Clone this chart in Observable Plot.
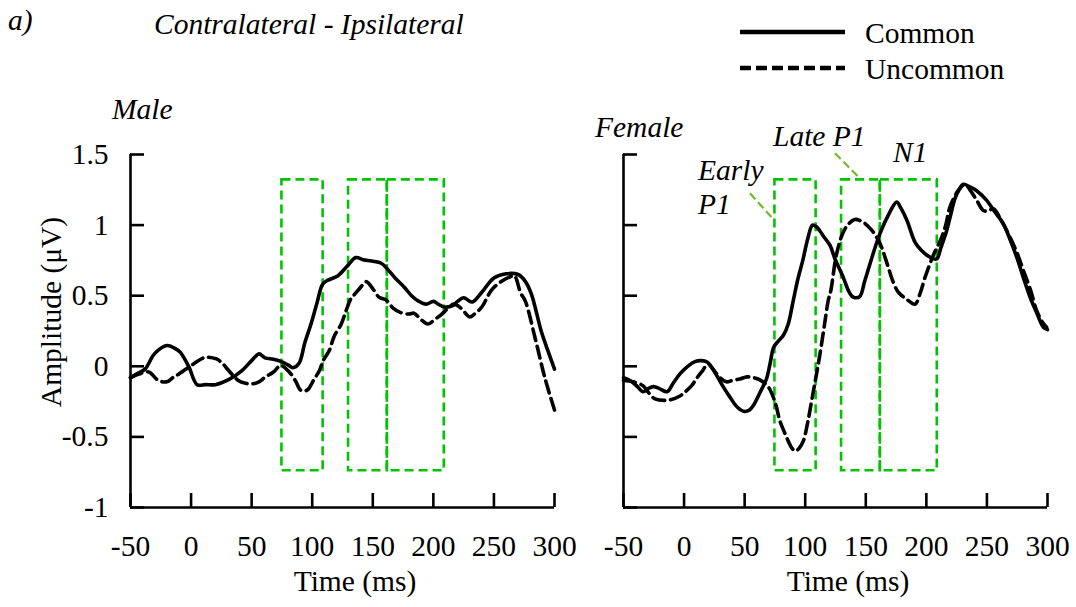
<!DOCTYPE html>
<html>
<head>
<meta charset="utf-8">
<script src="https://cdn.jsdelivr.net/npm/d3@7"></script>
<script src="https://cdn.jsdelivr.net/npm/@observablehq/plot@0.6"></script>
<style>
  html, body { margin: 0; padding: 0; background: #fff; }
  #wrap { position: relative; width: 1076px; height: 607px; overflow: hidden; font-family: "Liberation Serif", "Times New Roman", serif; }
  #wrap > .panel { position: absolute; top: 140px; }
  #overlay { position: absolute; left: 0; top: 0; pointer-events: none; }
  #overlay text { font-family: "Liberation Serif", "Times New Roman", serif; font-size: 29.5px; fill: #000; }
  #overlay text.it { font-style: italic; }
</style>
</head>
<body>
<div id="wrap"></div>
<script>
// ---- data (time in ms, amplitude in µV) ----
const xTicks = [-50, 0, 50, 100, 150, 200, 250, 300];
const yTicks = [-1, -0.5, 0, 0.5, 1, 1.5];
const seriesNames = ["Common", "Uncommon"];

const windows = [
  {name: "Early P1", t0: 75, t1: 109},
  {name: "Late P1", t0: 130, t1: 162},
  {name: "N1", t0: 162, t1: 209}
];
const windowAmp = [-0.74, 1.32];

const maleCommon = [[-50,-0.08],[-44,-0.05],[-38,-0.02],[-30,0.09],[-20,0.147],[-12,0.12],[-9,0.10],[-2,0.0],[5,-0.13],[12,-0.13],[20,-0.13],[31,-0.095],[42,-0.03],[50,0.04],[56,0.088],[61,0.06],[68,0.05],[74,0.035],[80,0.01],[84,-0.01],[89,0.02],[94,0.17],[99,0.30],[104,0.45],[108.5,0.58],[113,0.61],[121,0.64],[129,0.71],[136,0.77],[142,0.755],[149,0.745],[157,0.73],[162,0.69],[169,0.62],[176,0.56],[182,0.5],[188,0.46],[194,0.44],[200,0.46],[204,0.44],[209,0.42],[216,0.43],[220,0.46],[225,0.485],[232,0.455],[240,0.525],[250,0.625],[260,0.655],[270,0.65],[276,0.6],[281,0.51],[289,0.25],[295,0.1],[300,-0.02]];

const maleUncommon = [[-50,-0.08],[-43,-0.055],[-35,-0.04],[-27,-0.10],[-20,-0.11],[-15,-0.08],[-10,-0.054],[2,0.017],[8,0.05],[12,0.064],[21,0.052],[26,0.02],[31,-0.03],[39,-0.10],[45,-0.12],[50,-0.125],[56,-0.11],[61,-0.078],[68,-0.04],[74,0.005],[81,-0.04],[86,-0.1],[90.5,-0.17],[94,-0.175],[97,-0.16],[101,-0.1],[106,-0.03],[109,0.04],[114,0.11],[118,0.21],[124,0.3],[128,0.395],[132,0.48],[135,0.51],[140,0.56],[144.5,0.60],[151,0.537],[155,0.49],[158,0.48],[161,0.47],[167,0.41],[173,0.38],[180,0.37],[184,0.376],[190,0.33],[195.5,0.30],[201,0.33],[207,0.37],[212,0.41],[217,0.44],[223,0.41],[230,0.35],[234,0.37],[240,0.42],[248,0.54],[256,0.6],[264,0.636],[267,0.64],[272,0.52],[276,0.46],[284,0.2],[292,-0.08],[300,-0.31]];

const femaleCommon = [[-50,-0.08],[-44.6,-0.10],[-39,-0.14],[-34,-0.18],[-29,-0.155],[-25,-0.144],[-20,-0.16],[-14,-0.18],[-9,-0.12],[-3.4,-0.054],[3,0.0],[9,0.033],[14,0.04],[19,0.03],[23,-0.01],[27,-0.066],[32,-0.14],[38,-0.22],[44,-0.29],[50,-0.32],[54,-0.31],[57,-0.28],[63,-0.18],[68,-0.09],[71,0.02],[74,0.135],[78,0.18],[82,0.22],[86,0.3],[90,0.46],[94,0.62],[98,0.75],[102,0.9],[106,1.0],[109,0.99],[112,0.96],[116,0.91],[120.5,0.856],[124.6,0.76],[131.4,0.63],[136,0.53],[139.7,0.49],[145,0.494],[149,0.6],[153.5,0.726],[158,0.85],[161.7,0.94],[168,1.06],[175.5,1.163],[179,1.12],[184,1.033],[190.6,0.88],[196,0.82],[203,0.773],[208.5,0.76],[212,0.84],[216.8,0.962],[220,1.07],[223.6,1.187],[227,1.25],[230.5,1.289],[236,1.27],[242,1.24],[249.8,1.175],[256,1.1],[263.5,1.01],[269,0.9],[274.6,0.773],[280,0.63],[285.6,0.49],[291,0.38],[296.6,0.277],[300,0.26]];

const femaleUncommon = [[-50,-0.1],[-42,-0.11],[-34,-0.137],[-29,-0.19],[-24,-0.23],[-13,-0.24],[-3.4,-0.21],[1,-0.18],[6.3,-0.137],[10,-0.09],[14.5,-0.04],[20,0.017],[23,-0.01],[27,-0.054],[31,-0.09],[35,-0.11],[40,-0.10],[46,-0.09],[52,-0.075],[56,-0.078],[61,-0.09],[65,-0.11],[69,-0.14],[72.3,-0.19],[76,-0.28],[79,-0.385],[83,-0.47],[86,-0.53],[89,-0.58],[92,-0.60],[95,-0.58],[98.4,-0.53],[102,-0.4],[105.4,-0.24],[109,-0.07],[112.2,0.088],[116,0.3],[119,0.466],[121,0.53],[126,0.80],[131.4,0.95],[136,1.01],[141,1.04],[148,1.02],[152,0.99],[156.2,0.95],[161.7,0.87],[168.6,0.70],[172,0.61],[176.8,0.525],[183,0.48],[190.6,0.44],[195,0.52],[198.9,0.63],[205.7,0.785],[212.7,0.915],[216,1.0],[219.5,1.128],[226.4,1.246],[231.9,1.289],[236,1.25],[241.6,1.175],[247,1.104],[251,1.1],[255.3,1.116],[262,1.03],[269,0.915],[275,0.80],[280,0.68],[286,0.54],[291,0.395],[296,0.31],[299.3,0.277]];

// annotation leader lines (female panel), in data units
const leaders = [
  {label: "Early P1", x1: 54.4, y1: 1.225, x2: 74.5, y2: 1.034},
  {label: "Late P1", x1: 124.6, y1: 1.509, x2: 145.2, y2: 1.33}
];

const GREEN = "#00c400";
const LEADER = "#72b82c";

function panel(common, uncommon, {width, marginLeft, marginRight, yLabels, notes}) {
  const marks = [
    Plot.rect(windows, {x1: "t0", x2: "t1", y1: windowAmp[0], y2: windowAmp[1], fill: "none", stroke: GREEN, strokeWidth: 2.6, strokeDasharray: "9,5"}),
    Plot.line(uncommon, {x: d => d[0], y: d => d[1], stroke: "#000", strokeWidth: 3.6, strokeDasharray: "12,6", curve: "catmull-rom"}),
    Plot.line(common, {x: d => d[0], y: d => d[1], stroke: "#000", strokeWidth: 3.6, curve: "catmull-rom"}),
    Plot.ruleX([-50], {y1: -1, y2: 1.5, stroke: "#000", strokeWidth: 2.6}),
    Plot.ruleY([-1], {x1: -50, x2: 300, stroke: "#000", strokeWidth: 2.6}),
    Plot.axisX(xTicks, {tickSize: 14, dy: -14, tickPadding: 28, tickFormat: d => String(d), label: null, strokeWidth: 2.6, fontSize: 29.5}),
    Plot.axisY(yTicks, {tickSize: 14, dx: 14, tickPadding: 22, tickFormat: yLabels ? (d => String(d)) : (() => ""), label: null, strokeWidth: 2.6, fontSize: 29.5})
  ];
  if (notes) marks.push(Plot.link(notes, {x1: "x1", y1: "y1", x2: "x2", y2: "y2", stroke: LEADER, strokeWidth: 2.2, strokeDasharray: "8,4"}));
  const svg = Plot.plot({
    width, height: 440, marginLeft, marginRight, marginTop: 14, marginBottom: 73,
    x: {domain: [-50, 300]},
    y: {domain: [-1, 1.5]},
    style: {fontFamily: "Liberation Serif", fontSize: "29.5px", color: "#000", background: "transparent", overflow: "visible"},
    marks
  });
  svg.classList.add("panel");
  return svg;
}

const wrap = document.getElementById("wrap");
const left = panel(maleCommon, maleUncommon, {width: 584, marginLeft: 130, marginRight: 30, yLabels: true});
left.style.left = "0px";
wrap.appendChild(left);
const right = panel(femaleCommon, femaleUncommon, {width: 516, marginLeft: 63, marginRight: 29, yLabels: false, notes: leaders});
right.style.left = "560px";
wrap.appendChild(right);

// overlay: titles, legend, axis titles, annotations
const ns = "http://www.w3.org/2000/svg";
const ov = d3.select(wrap).append("svg").attr("id", "overlay").attr("width", 1076).attr("height", 607);
const txt = (s, x, y, cls, anchor) => ov.append("text").attr("x", x).attr("y", y).attr("class", cls || null).attr("text-anchor", anchor || "start").text(s);
txt("a)", 8, 30, "it");
txt("Contralateral - Ipsilateral", 154, 34, "it");
txt("Male", 112, 119, "it");
txt("Female", 595, 137, "it");
txt("Early", 698, 180, "it");
txt("P1", 698, 214, "it");
txt("Late P1", 773, 146, "it");
txt("N1", 893, 162, "it");
txt("Time (ms)", 355, 591, null, "middle");
txt("Time (ms)", 848, 591, null, "middle");
ov.append("text").attr("transform", "translate(61,312) rotate(-90)").attr("text-anchor", "middle").text("Amplitude (μV)");
// legend
ov.append("line").attr("x1", 740).attr("x2", 845).attr("y1", 32).attr("y2", 32).attr("stroke", "#000").attr("stroke-width", 4.5);
ov.append("line").attr("x1", 740).attr("x2", 845).attr("y1", 68).attr("y2", 68).attr("stroke", "#000").attr("stroke-width", 4.5).attr("stroke-dasharray", "11,5");
txt(seriesNames[0], 865, 43);
txt(seriesNames[1], 865, 79);
</script>
</body>
</html>
